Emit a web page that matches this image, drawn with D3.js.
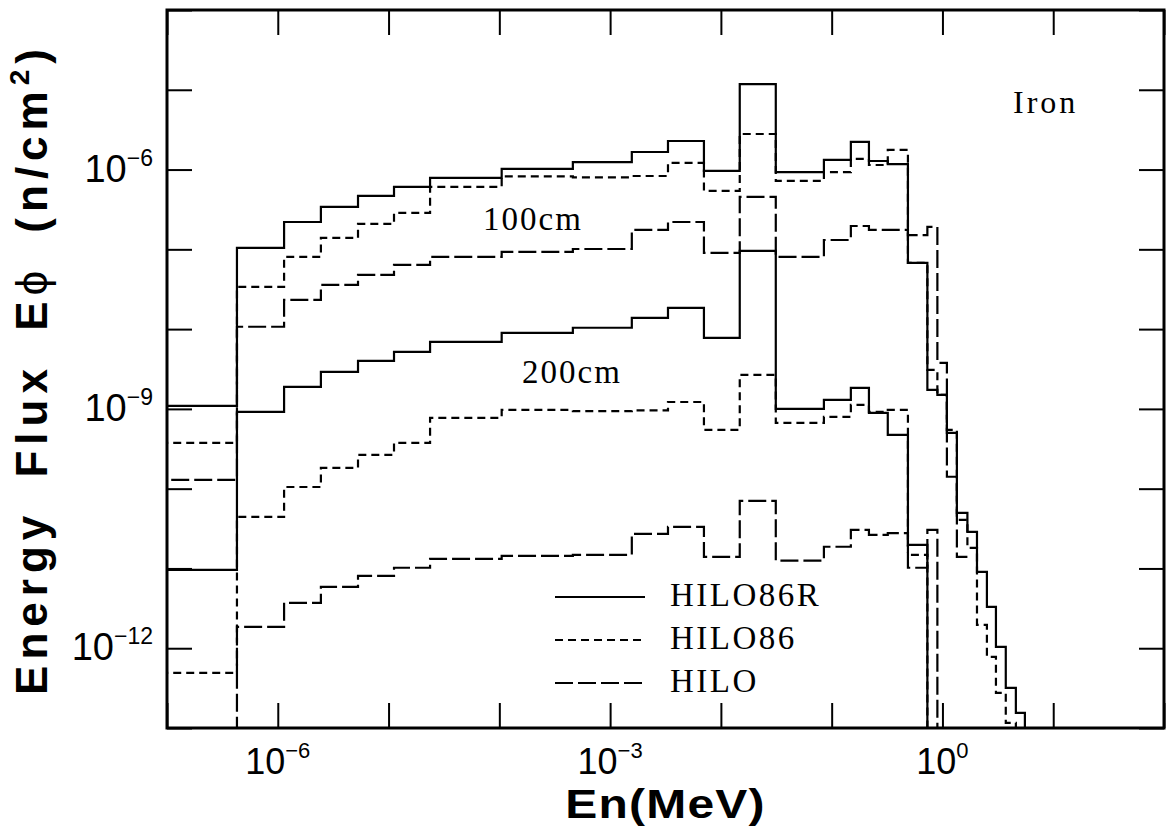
<!DOCTYPE html>
<html>
  <head>
    <meta charset="utf-8">
    <title></title>
    <script src="https://cdnjs.cloudflare.com/ajax/libs/d3/7.8.5/d3.min.js"></script>
    <style type="text/css">
        html, body{
            margin: 0px;
            padding: 0px;
            background: #fff;
        }
        #vis{
            position: absolute;
            top: 0px;
            left: 0px;
        }
        .tick line{
            stroke: #000;
            stroke-width: 2px;
        }
        .sans{
            font-family: "Liberation Sans", Arial, sans-serif;
        }
        .serif{
            font-family: "Liberation Serif", "Times New Roman", serif;
        }
    </style>
  </head>
  <body>
    <div id="vis"></div>
    <script type="text/javascript">

        // group boundaries, MeV
        var edges = [1e-8, 4.28e-7, 1.14e-6, 2.45e-6, 5.3e-6, 1.12e-5, 2.37e-5, 1.05e-4,
                     4.61e-4, 1.57e-3, 3.33e-3, 7.03e-3, 1.48e-2, 3.13e-2, 8.51e-2, 0.149,
                     0.217, 0.321, 0.488, 0.731, 0.900, 1.097, 1.35, 1.68, 2.05, 2.52,
                     3.04, 3.73, 4.60, 5.55];

        // energy flux per group, n/cm2 (0 = below the frame, null = not plotted)
        var hilo86r100 = [1.09e-9, 1.04e-7, 2.20e-7, 3.40e-7, 4.67e-7, 6.05e-7, 7.85e-7, 1.02e-6,
                          1.24e-6, 1.66e-6, 2.28e-6, 9.6e-7, 1.18e-5, 9.3e-7, 1.32e-6, 2.22e-6,
                          1.28e-6, 1.17e-6, 6.76e-8, 1.73e-9, 1.50e-9, 5.0e-10, 4.98e-11, 2.88e-11,
                          9.06e-12, 3.30e-12, 1.04e-12, 3.19e-13, 1.55e-13];
        var hilo86_100 = [3.75e-10, 3.38e-8, 8.04e-8, 1.39e-7, 2.08e-7, 2.86e-7, 6.05e-7, 8.2e-7,
                          8.0e-7, 8.3e-7, 1.21e-6, 5.40e-7, 2.79e-6, 7.20e-7, 9.3e-7, 1.36e-6,
                          1.14e-6, 1.76e-6, 6.76e-8, 3.08e-9, 1.50e-9, 5.46e-10, 4.07e-11, 1.81e-11,
                          1.96e-12, 7.80e-13, 2.76e-13, 1.16e-13, 0];
        var hilo100 = [1.29e-10, 1.07e-8, 2.32e-8, 3.58e-8, 4.78e-8, 6.38e-8, 8.04e-8, 9.27e-8,
                       1.01e-7, 1.75e-7, 2.20e-7, 9.02e-8, 4.54e-7, 8.04e-8, 1.31e-7, 1.96e-7,
                       1.75e-7, 1.75e-7, 1.51e-7, 1.91e-7, 3.77e-9, 1.41e-10, 1.40e-11, null,
                       null, null, null, null, null];
        var hilo86r200 = [9.6e-12, 9.16e-10, 1.89e-9, 2.91e-9, 4.00e-9, 5.18e-9, 6.92e-9, 8.96e-9,
                          1.04e-8, 1.38e-8, 1.85e-8, 7.76e-9, 9.55e-8, 1.0e-9, 1.30e-9, 1.83e-9,
                          8.91e-10, 4.72e-10, 1.98e-11, 0, 0, 0, 0, 0,
                          0, 0, 0, 0, 0];
        var hilo86_200 = [4.92e-13, 4.43e-11, 1.05e-10, 1.82e-10, 2.65e-10, 3.75e-10, 7.71e-10, 9.7e-10,
                          9.4e-10, 9.6e-10, 1.22e-9, 5.46e-10, 2.67e-9, 6.68e-10, 7.94e-10, 1.12e-9,
                          9.2e-10, 9.7e-10, 1.48e-11, 0, 0, 0, 0, 0,
                          0, 0, 0, 0, 0];
        var hilo200 = [0, 1.85e-12, 3.71e-12, 5.88e-12, 8.07e-12, 1.02e-11, 1.32e-11, 1.44e-11,
                       1.48e-11, 2.72e-11, 3.32e-11, 1.40e-11, 7.03e-11, 1.25e-11, 1.87e-11, 3.05e-11,
                       2.64e-11, 2.77e-11, 1.02e-11, 3.05e-11, 0, 0, 0, 0,
                       0, 0, 0, 0, 0];

        var legendNames = ["HILO86R", "HILO86", "HILO"];
        var xLabelExp = ["-6", "-3", "0"];
        var yLabelExp = ["-6", "-9", "-12"];

        var dashes = [null, "8,5", "18,5"];
        var series = [
            {values: hilo86r100, dash: dashes[0]},
            {values: hilo86_100, dash: dashes[1]},
            {values: hilo100, dash: dashes[2]},
            {values: hilo86r200, dash: dashes[0]},
            {values: hilo86_200, dash: dashes[1]},
            {values: hilo200, dash: dashes[2]}
        ];

        var W = 1166, H = 827;
        var margin = {left: 167, top: 10, right: 2, bottom: 99};
        var width = W - margin.left - margin.right,
            height = H - margin.top - margin.bottom;

        var x = d3.scaleLog().domain([1e-7, 1e2]).range([0, width]);
        var y = d3.scaleLog().domain([1e-13, 1e-4]).range([height, 0]);

        var xDecades = d3.range(-7, 3).map(function(k){ return Math.pow(10, k); });
        var yDecades = d3.range(-13, -3).map(function(k){ return Math.pow(10, k); });

        var svg = d3.select("#vis").append("svg")
            .attr("width", W)
            .attr("height", H);

        var g = svg.append("g")
            .attr("transform", "translate(" + margin.left + "," + margin.top + ")");

        g.append("clipPath").attr("id", "plot")
            .append("rect")
            .attr("width", width)
            .attr("height", height);

        // ticks on all four sides, pointing inwards
        g.append("g").attr("transform", "translate(0," + height + ")")
            .call(d3.axisBottom(x).tickValues(xDecades).tickSize(-25).tickFormat(""));
        g.append("g")
            .call(d3.axisTop(x).tickValues(xDecades).tickSize(-25).tickFormat(""));
        g.append("g")
            .call(d3.axisLeft(y).tickValues(yDecades).tickSize(-25).tickFormat(""));
        g.append("g").attr("transform", "translate(" + width + ",0)")
            .call(d3.axisRight(y).tickValues(yDecades).tickSize(-25).tickFormat(""));
        g.selectAll(".domain").remove();

        // step curves
        function steps(vals){
            var pts = [];
            vals.forEach(function(v, i){
                pts.push([edges[i], v]);
                pts.push([edges[i + 1], v]);
            });
            if(vals[vals.length - 1] !== null) pts.push([edges[edges.length - 1], 0]);
            return pts;
        }

        var line = d3.line()
            .defined(function(d){ return d[1] !== null; })
            .x(function(d){ return x(d[0]); })
            .y(function(d){ return d[1] > 0 ? y(d[1]) : height + 10; });

        g.append("g").attr("clip-path", "url(#plot)")
            .selectAll("path")
            .data(series)
            .enter().append("path")
            .attr("d", function(d){ return line(steps(d.values)); })
            .attr("fill", "none")
            .attr("stroke", "#000")
            .attr("stroke-width", 2.2)
            .attr("stroke-dasharray", function(d){ return d.dash; });

        g.append("rect")
            .attr("width", width)
            .attr("height", height)
            .attr("fill", "none")
            .attr("stroke", "#000")
            .attr("stroke-width", 3);

        // tick labels
        var xl = g.selectAll(".xlab").data(xLabelExp).enter().append("text")
            .attr("class", "sans")
            .attr("x", function(d){ return x(Math.pow(10, +d)); })
            .attr("y", height + 46)
            .attr("text-anchor", "middle")
            .style("font-size", "36px");
        xl.append("tspan").text("10");
        xl.append("tspan").attr("dy", -16).style("font-size", "22px")
            .text(function(d){ return d.replace("-", "\u2212"); });

        var yl = g.selectAll(".ylab").data(yLabelExp).enter().append("text")
            .attr("class", "sans")
            .attr("x", -14)
            .attr("y", function(d){ return y(Math.pow(10, +d)) + 12; })
            .attr("text-anchor", "end")
            .style("font-size", "38px");
        yl.append("tspan").text("10");
        yl.append("tspan").attr("dy", -16).style("font-size", "23px")
            .text(function(d){ return d.replace("-", "\u2212"); });

        // axis titles
        svg.append("text")
            .attr("class", "sans")
            .attr("transform", "translate(" + (margin.left + width / 2) + ",818) scale(1.2,1)")
            .attr("text-anchor", "middle")
            .style("font-size", "40px")
            .style("font-weight", "bold")
            .style("letter-spacing", "1px")
            .text("En(MeV)");

        var yt = svg.append("text")
            .attr("class", "sans")
            .attr("transform", "translate(47," + (margin.top + height / 2) + ") rotate(-90)")
            .attr("text-anchor", "middle")
            .style("font-size", "44px")
            .style("font-weight", "bold")
            .style("letter-spacing", "6px")
            .style("word-spacing", "14px");
        yt.append("tspan").text("Energy Flux E");
        yt.append("tspan").style("font-weight", "normal").text("\u03d5");
        yt.append("tspan").text(" (n/cm");
        yt.append("tspan").attr("dy", -18).style("font-size", "28px").text("2");
        yt.append("tspan").attr("dy", 18).text(")");

        // annotations
        svg.append("text").attr("class", "serif")
            .attr("x", 1013).attr("y", 113)
            .style("font-size", "32px").style("letter-spacing", "3px")
            .text("Iron");
        svg.append("text").attr("class", "serif")
            .attr("x", 483).attr("y", 230)
            .style("font-size", "33px").style("letter-spacing", "2px")
            .text("100cm");
        svg.append("text").attr("class", "serif")
            .attr("x", 522).attr("y", 383)
            .style("font-size", "33px").style("letter-spacing", "2px")
            .text("200cm");

        // legend
        var lg = svg.append("g").attr("transform", "translate(555,597)");
        legendNames.forEach(function(name, i){
            lg.append("line")
                .attr("x1", 0).attr("x2", 90)
                .attr("y1", i * 43).attr("y2", i * 43)
                .attr("stroke", "#000")
                .attr("stroke-width", 2)
                .attr("stroke-dasharray", dashes[i]);
            lg.append("text").attr("class", "serif")
                .attr("x", 115).attr("y", i * 43 + 9)
                .style("font-size", "33px").style("letter-spacing", "2.5px")
                .text(name);
        });

    </script>
  </body>
</html>
